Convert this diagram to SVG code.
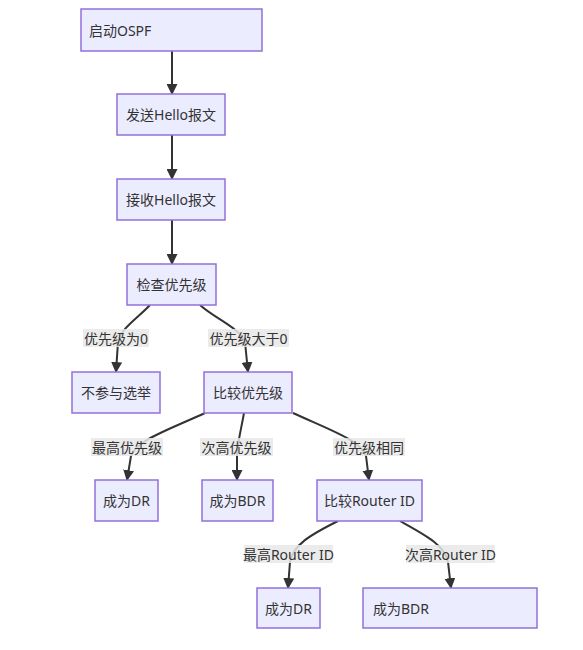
<svg xmlns="http://www.w3.org/2000/svg" width="583" height="650" viewBox="0 0 583 650">
<style>
.node rect{fill:#ECECFF;stroke:#9370DB;stroke-width:1.5}
text{font-family:"Noto Sans","Noto Sans CJK SC",sans-serif;font-size:14px;fill:#333333}
.c{text-anchor:middle;dominant-baseline:central}
.l{text-anchor:start;dominant-baseline:central}
.edge{fill:none;stroke:#333333;stroke-width:2}
.lbl rect{fill:#e8e8e8;opacity:0.85}
</style>
<defs>
<marker id="arr" viewBox="0 0 10 10" refX="9" refY="5" markerWidth="11" markerHeight="11" markerUnits="userSpaceOnUse" orient="auto">
<path d="M0,0 L10,5 L0,10 z" fill="#333333"/>
</marker>
</defs>
<rect width="583" height="650" fill="#ffffff"/>
<g id="edges">
<path class="edge" d="M172,51 L172,94" marker-end="url(#arr)"/>
<path class="edge" d="M172,135 L172,179" marker-end="url(#arr)"/>
<path class="edge" d="M172,220 L172,264" marker-end="url(#arr)"/>
<path class="edge" d="M150,305 C138,318 121,328 118,342 L116,372" marker-end="url(#arr)"/>
<path class="edge" d="M200,305 C214,318 240,328 245,342 L248,372" marker-end="url(#arr)"/>
<path class="edge" d="M205,413 C168,430 137,440 131,456 L127,480" marker-end="url(#arr)"/>
<path class="edge" d="M244,413 C241,430 238,440 237,455 L237,480" marker-end="url(#arr)"/>
<path class="edge" d="M293,413 C330,430 360,440 366,456 L369,480" marker-end="url(#arr)"/>
<path class="edge" d="M338,521 C310,535 293,545 290,562 L288,588" marker-end="url(#arr)"/>
<path class="edge" d="M400,521 C425,535 445,545 448,562 L451,588" marker-end="url(#arr)"/>
</g>
<g id="edge-labels">
<g class="lbl"><rect x="83" y="329" width="66" height="18"/><text class="c" x="116" y="338">优先级为0</text></g>
<g class="lbl"><rect x="208" y="329" width="81" height="18"/><text class="c" x="248.5" y="338">优先级大于0</text></g>
<g class="lbl"><rect x="91" y="438" width="72" height="18"/><text class="c" x="127" y="447">最高优先级</text></g>
<g class="lbl"><rect x="200" y="438" width="73" height="18"/><text class="c" x="236.5" y="447">次高优先级</text></g>
<g class="lbl"><rect x="333" y="438" width="72" height="18"/><text class="c" x="369" y="447">优先级相同</text></g>
<g class="lbl"><rect x="244" y="545" width="89" height="18"/><text class="c" x="288.5" y="554">最高Router ID</text></g>
<g class="lbl"><rect x="406" y="545" width="89" height="18"/><text class="c" x="450.5" y="554">次高Router ID</text></g>
</g>
<g id="start" class="node"><rect x="81" y="9" width="181" height="42"/><text class="l" x="89" y="30">启动OSPF</text></g>
<g id="send" class="node"><rect x="117" y="94" width="108" height="41"/><text class="c" x="171" y="114.5">发送Hello报文</text></g>
<g id="recv" class="node"><rect x="117" y="179" width="108" height="41"/><text class="c" x="171" y="199.5">接收Hello报文</text></g>
<g id="check" class="node"><rect x="127" y="264" width="89" height="41"/><text class="c" x="171.5" y="284.5">检查优先级</text></g>
<g id="noelect" class="node"><rect x="72" y="372" width="88" height="41"/><text class="c" x="116" y="392.5">不参与选举</text></g>
<g id="cmpprio" class="node"><rect x="204" y="372" width="88" height="41"/><text class="c" x="248" y="392.5">比较优先级</text></g>
<g id="dr1" class="node"><rect x="95" y="480" width="63" height="41"/><text class="c" x="126.5" y="500.5">成为DR</text></g>
<g id="bdr1" class="node"><rect x="202" y="480" width="71" height="41"/><text class="c" x="237.5" y="500.5">成为BDR</text></g>
<g id="cmpid" class="node"><rect x="317" y="480" width="105" height="41"/><text class="c" x="369.5" y="500.5">比较Router ID</text></g>
<g id="dr2" class="node"><rect x="257" y="588" width="63" height="40"/><text class="c" x="288.5" y="608">成为DR</text></g>
<g id="bdr2" class="node"><rect x="363" y="588" width="174" height="40"/><text class="l" x="373" y="608">成为BDR</text></g>
</svg>
